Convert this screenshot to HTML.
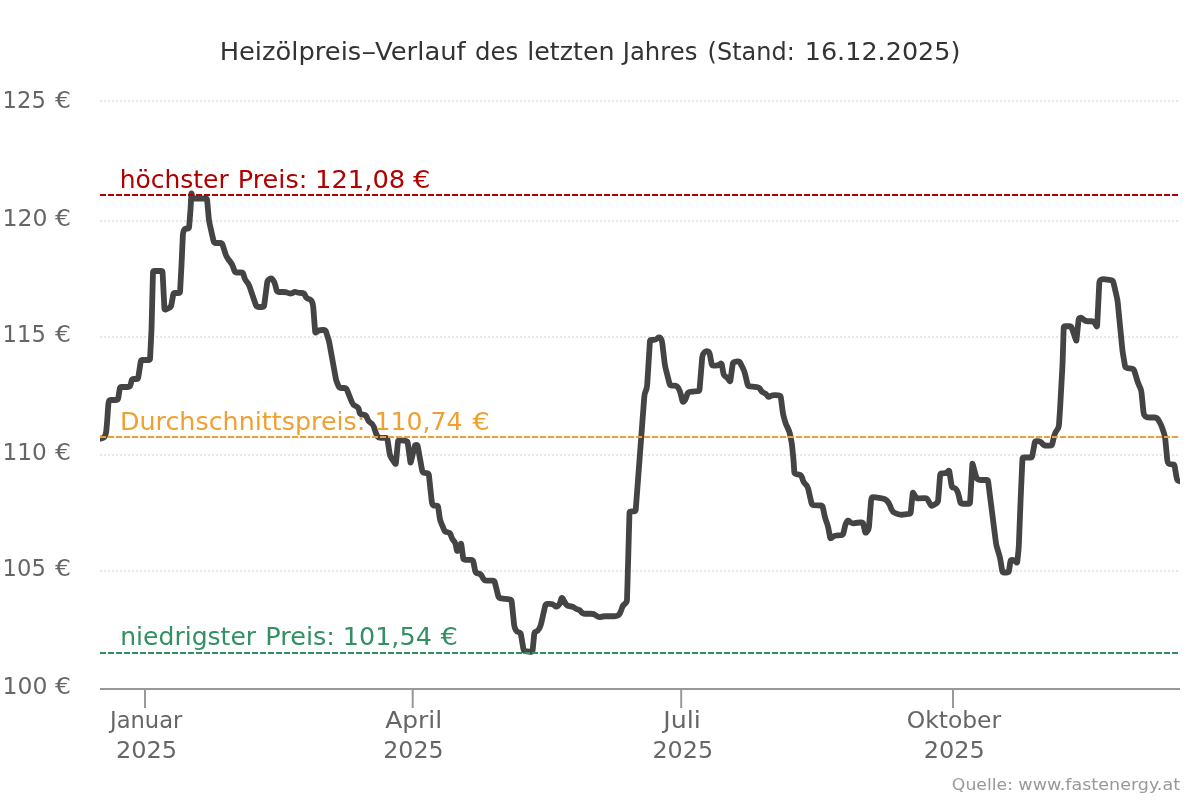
<!DOCTYPE html>
<html lang="de"><head><meta charset="utf-8"><title>Heizölpreis-Verlauf</title>
<style>html,body{margin:0;padding:0;background:#fff;overflow:hidden}svg{display:block}text{font-family:"DejaVu Sans", "Liberation Sans", sans-serif}</style></head><body>
<svg width="1200" height="800" viewBox="0 0 1200 800">
<rect width="1200" height="800" fill="#fff"/>
<defs><clipPath id="plot"><rect x="100" y="90" width="1080" height="610"/></clipPath></defs>
<g stroke="#e6e6e6" stroke-width="2" stroke-dasharray="2 2" fill="none">
<path d="M100 101H1180"/>
<path d="M100 221H1180"/>
<path d="M100 337H1180"/>
<path d="M100 455H1180"/>
<path d="M100 571H1180"/>
</g>
<g stroke="#999" stroke-width="2" fill="none">
<path d="M100 689H1180"/>
<path d="M145 689V708"/>
<path d="M412.7 689V708"/>
<path d="M681.2 689V708"/>
<path d="M953 689V708"/>
</g>
<g clip-path="url(#plot)"><path d="M98 439.3L102.21 438.22Q104.6 437.6 105.34 435.24L105.40 435.05Q106.2 432.5 106.45 429.51L107.00 422.99Q107.25 420 107.45 417.01L108.20 405.99Q108.4 403 108.85 401.50L108.85 401.50Q109.3 400 111.31 400.00L116.16 400.00Q118 400 118.28 398.18L119.72 388.82Q120 387 121.84 387.00L128.05 387.00Q130 387 130.47 385.11L131.53 380.89Q132 379 133.95 379.00L136.15 379.00Q138 379 138.29 377.18L140.71 361.82Q141 360 142.85 360.00L148.26 360.00Q150 360 150.09 358.26L151.35 333.00Q151.5 330 151.58 327.00L152.96 272.72Q153 271 154.72 271.00L160.76 271.00Q162.5 271 162.59 272.74L164.42 308.53Q164.5 310 165.75 309.50L165.75 309.50Q167 309 169.00 308.00L169.00 308.00Q171 307 171.47 304.37L173.17 294.84Q173.5 293 175.37 293.00L178.26 293.00Q180 293 180.09 291.26L181.34 268.00Q181.5 265 181.64 262.00L182.86 235.00Q183 232 184.00 230.25L184.00 230.25Q185 228.5 187.00 228.50L187.23 228.50Q189 228.5 189.14 226.74L190.26 212.99Q190.5 210 190.66 207.00L191.38 193.91Q191.445 192.702 191.66 193.89L192.16 196.66Q192.5 198.5 194.37 198.50L205.22 198.50Q207 198.5 207.16 200.27L208.73 218.01Q209 221 209.66 223.93L213.57 241.12Q214 243 215.92 243.00L219.96 243.00Q222 243 222.62 244.94L225.58 254.14Q226.5 257 228.35 259.36L230.15 261.64Q232 264 233.00 266.83L234.31 270.54Q235 272.5 237.08 272.50L241.03 272.50Q243 272.5 243.51 274.40L244.23 277.10Q245 280 246.75 281.75L246.75 281.75Q248.5 283.5 249.47 286.34L255.84 305.05Q256.5 307 258.56 307.00L262.18 307.00Q264 307 264.23 305.20L267.17 282.53Q267.5 280 269.50 279.00L269.82 278.84Q271.5 278 272.62 279.50L273.00 280.00Q274.5 282 275.23 284.91L276.53 290.11Q277 292 278.95 292.00L283.00 292.00Q286 292 287.50 292.75L287.50 292.75Q289 293.5 290.50 293.50L290.50 293.50Q292 293.5 293.50 292.50L293.50 292.50Q295 291.5 296.50 292.25L296.50 292.25Q298 293 301.00 293.00L301.78 293.00Q304 293 304.92 295.02L305.39 296.05Q306.5 298.5 308.75 299.00L308.75 299.00Q311 299.5 312.00 301.75L312.00 301.75Q313 304 313.23 306.99L315.15 331.67Q315.258 333.023 316.31 332.17L317.13 331.51Q319 330 322.00 330.00L323.47 330.00Q325.5 330 326.10 331.93L327.11 335.14Q328 338 328.50 339.50L328.50 339.50Q329 341 329.54 343.95L335.71 378.05Q336.25 381 337.48 383.74L338.49 385.98Q339.4 388 341.61 388.00L344.11 388.00Q346.25 388 347.04 389.99L351.89 402.21Q353 405 355.75 406.15L356.15 406.32Q358.5 407.3 358.98 409.80L359.39 411.89Q359.8 414 361.91 414.42L364.00 414.84Q366.3 415.3 366.99 417.54L367.43 418.97Q368.3 421.8 370.65 422.90L370.65 422.90Q373 424 373.91 426.85L375.59 432.14Q376.5 435 377.38 436.35L377.38 436.35Q378.25 437.7 380.84 437.79L385.43 437.94Q387.3 438 387.57 439.85L389.56 453.28Q390 456.25 391.72 458.70L395.08 463.48Q395.812 464.521 395.93 463.25L397.95 441.66Q398.1 440 399.75 440.22L405.54 440.99Q407.5 441.25 407.77 443.21L410.39 462.09Q410.559 463.299 410.85 462.11L414.54 446.89Q415 445 416.25 445.00L416.25 445.00Q417.5 445 417.84 446.84L422.13 470.46Q422.5 472.5 424.55 472.83L426.80 473.19Q428.75 473.5 428.96 475.46L431.58 500.02Q431.9 503 432.45 504.30L432.45 504.30Q433 505.6 435.17 505.60L436.17 505.60Q438 505.6 438.25 507.41L439.59 517.03Q440 520 441.15 522.77L444.10 529.84Q445 532 447.33 532.23L447.80 532.28Q450 532.5 450.70 534.59L451.35 536.55Q452.3 539.4 453.80 540.80L453.80 540.80Q455.3 542.2 455.86 545.15L456.85 550.35Q457.09 551.592 457.63 550.45L460.61 544.09Q461.137 542.962 461.30 544.20L463.15 557.86Q463.4 559.7 465.26 559.76L471.07 559.94Q473 560 473.38 561.89L475.19 570.95Q475.6 573 477.66 573.31L478.10 573.38Q480.6 573.75 481.92 576.12L483.25 578.53Q484.4 580.6 486.77 580.60L492.45 580.60Q494.4 580.6 494.87 582.49L498.23 595.93Q498.75 598 500.87 598.28L509.58 599.44Q511.5 599.7 511.70 601.63L514.09 624.52Q514.4 627.5 515.65 629.75L515.65 629.75Q516.9 632 518.75 632.25L518.75 632.25Q520.6 632.5 520.94 634.50L523.41 649.03Q523.75 651 525.74 651.23L530.83 651.81Q532.5 652 532.66 650.33L534.20 634.11Q534.4 632 536.20 631.50L536.20 631.50Q538 631 539.30 628.50L539.30 628.50Q540.6 626 541.26 623.07L545.16 605.92Q545.6 604 547.57 603.93L549.50 603.86Q552.5 603.75 554.38 605.38L554.73 605.68Q556.25 607 557.83 606.00L557.83 606.00Q559.4 605 560.29 602.13L561.42 598.46Q561.81 597.205 562.48 598.34L565.67 603.75Q567 606 569.60 606.22L570.01 606.25Q573 606.5 574.62 607.95L574.62 607.95Q576.25 609.4 578.12 609.70L578.12 609.70Q580 610 581.25 611.88L581.25 611.88Q582.5 613.75 585.04 613.75L590.75 613.75Q593.75 613.75 596.15 615.55L596.68 615.95Q598.75 617.5 600.62 616.88L600.62 616.88Q602.5 616.25 605.50 616.25L614.50 616.25Q617.5 616.25 618.75 615.00L618.75 615.00Q620 613.75 620.97 610.91L622.03 607.84Q623 605 624.95 603.75L624.95 603.75Q626.9 602.5 626.98 599.93L627.51 583.00Q627.6 580 627.68 577.00L629.45 513.25Q629.5 511.5 631.25 511.44L633.80 511.36Q635.6 511.3 635.74 509.51L637.77 482.99Q638 480 638.23 477.01L644.27 396.99Q644.5 394 645.65 391.23L645.85 390.77Q647 388 647.19 385.01L649.89 341.75Q650 340 651.75 340.00L652.80 340.00Q655.6 340 657.50 338.35L658.16 337.78Q659.4 336.7 660.39 338.01L660.65 338.35Q661.9 340 662.26 342.98L664.64 363.02Q665 366 665.74 368.91L669.52 383.70Q670 385.6 671.96 385.60L674.51 385.60Q676.9 385.6 678.09 387.68L678.51 388.40Q680 391 680.70 393.92L682.36 400.87Q682.7 402.3 683.85 401.55L683.85 401.55Q685 400.8 685.97 397.96L687.29 394.08Q688 392 690.19 391.81L697.54 391.16Q699.4 391 699.56 389.14L702.25 356.99Q702.5 354 704.38 352.30L704.62 352.08Q706.25 350.6 707.83 351.30L707.83 351.30Q709.4 352 709.87 354.53L711.56 363.76Q711.9 365.6 713.77 365.60L715.00 365.60Q718 365.6 719.79 364.31L720.43 363.85Q721.578 363.02 721.82 364.41L723.32 373.09Q723.75 375.6 725.33 376.30L725.33 376.30Q726.9 377 728.54 379.51L729.49 380.95Q730.188 382.027 730.37 380.76L732.73 363.94Q733 362 734.95 361.77L737.33 361.49Q739.4 361.25 740.33 363.12L743.06 368.57Q744.4 371.25 745.10 374.17L747.51 384.22Q748 386.25 750.07 386.48L756.87 387.22Q759.4 387.5 760.57 389.76L760.70 390.00Q762 392.5 764.00 393.00L764.00 393.00Q766 393.5 767.30 395.50L767.71 396.13Q768.6 397.5 769.91 396.51L770.25 396.25Q771.9 395 774.89 395.21L778.71 395.47Q780.6 395.6 780.85 397.48L782.61 410.78Q783 413.75 783.75 416.65L784.85 420.85Q785.6 423.75 786.96 426.43L788.04 428.57Q789.4 431.25 789.99 434.19L791.31 440.81Q791.9 443.75 792.19 446.74L793.21 457.01Q793.5 460 793.70 462.99L794.27 471.80Q794.4 473.75 796.32 474.10L798.97 474.58Q801.25 475 801.94 477.21L802.86 480.14Q803.75 483 805.62 484.30L805.62 484.30Q807.5 485.6 808.16 488.53L811.46 503.06Q811.9 505 813.89 505.11L820.53 505.49Q822.5 505.6 822.91 507.53L824.38 514.56Q825 517.5 825.97 520.34L827.03 523.41Q828 526.25 828.54 529.20L830.04 537.35Q830.292 538.738 831.41 537.88L832.35 537.17Q834.4 535.6 837.39 535.39L840.99 535.14Q843 535 843.45 533.03L844.92 526.67Q845.6 523.75 846.80 521.88L847.16 521.31Q848 520 849.12 521.08L850.07 521.99Q851.9 523.75 854.38 523.20L854.70 523.12Q857.5 522.5 860.25 522.50L861.09 522.50Q863 522.5 863.41 524.37L865.05 531.91Q865.346 533.259 866.34 532.31L867.05 531.63Q868.75 530 868.98 527.01L871.02 500.99Q871.25 498 871.88 497.50L871.88 497.50Q872.5 497 875.47 497.42L882.03 498.33Q885 498.75 886.88 500.62L886.88 500.62Q888.75 502.5 889.85 505.29L891.40 509.21Q892.5 512 895.29 513.11L897.21 513.89Q900 515 902.98 514.65L908.69 513.97Q910.6 513.75 910.80 511.84L912.70 493.22Q912.828 491.969 913.45 493.07L915.38 496.51Q916.5 498.5 918.78 498.39L924.67 498.11Q926.9 498 927.94 499.98L930.47 504.76Q931.25 506.25 932.72 505.43L935.79 503.73Q938 502.5 938.19 499.98L940.06 475.41Q940.2 473.6 942.01 473.51L943.30 473.45Q946.3 473.3 947.73 471.72L948.26 471.13Q949.154 470.141 949.36 471.46L951.59 485.51Q951.9 487.5 953.75 487.75L953.75 487.75Q955.6 488 956.80 490.25L956.80 490.25Q958 492.5 958.68 495.42L960.17 501.87Q960.6 503.75 962.53 503.75L968.25 503.75Q970 503.75 970.10 502.00L972.35 464.17Q972.419 462.954 972.73 464.13L975.49 474.60Q976.25 477.5 977.12 478.75L977.12 478.75Q978 480 980.60 480.00L986.19 480.00Q988 480 988.22 481.80L990.13 497.02Q990.5 500 990.88 502.98L995.22 537.02Q995.6 540 995.92 542.50L995.92 542.50Q996.25 545 997.11 547.87L999.14 554.63Q1000 557.5 1000.49 560.46L1002.19 570.67Q1002.5 572.5 1004.36 572.50L1006.91 572.50Q1008.75 572.5 1009.02 570.68L1010.33 561.82Q1010.6 560 1012.44 560.00L1012.50 560.00Q1014.4 560 1015.78 561.63L1016.32 562.26Q1017.16 563.256 1017.29 561.96L1018.45 550.48Q1018.75 547.5 1018.87 544.50L1020.48 503.00Q1020.6 500 1020.73 497.00L1022.42 459.23Q1022.5 457.5 1024.24 457.50L1030.13 457.50Q1032 457.5 1032.34 455.66L1034.67 442.80Q1035 441 1036.82 441.08L1037.84 441.13Q1040.6 441.25 1042.17 443.43L1042.20 443.46Q1043.75 445.6 1046.39 445.60L1049.97 445.60Q1051.9 445.6 1052.35 443.72L1054.31 435.42Q1055 432.5 1056.88 430.25L1056.88 430.25Q1058.75 428 1058.96 425.01L1059.79 412.99Q1060 410 1060.17 407.00L1062.33 368.00Q1062.5 365 1062.60 362.00L1063.69 327.97Q1063.75 326.25 1065.48 326.25L1069.19 326.25Q1071.25 326.25 1071.91 328.20L1075.95 340.13Q1076.34 341.295 1076.47 340.07L1078.55 319.96Q1078.75 318 1080.33 317.75L1080.33 317.75Q1081.9 317.5 1083.44 319.37L1083.45 319.38Q1085 321.25 1087.82 321.25L1091.35 321.25Q1093.75 321.25 1094.94 323.33L1096.48 325.99Q1097.1 327.075 1097.16 325.83L1099.27 283.14Q1099.4 280.6 1100.95 279.68L1100.95 279.68Q1102.5 278.75 1105.45 279.27L1110.86 280.22Q1113 280.6 1113.49 282.72L1116.82 297.08Q1117.5 300 1117.79 302.99L1122.21 348.01Q1122.5 351 1122.99 353.96L1124.97 365.84Q1125.3 367.8 1127.28 368.02L1131.59 368.51Q1133.75 368.75 1134.37 370.83L1137.14 380.13Q1138 383 1139.26 385.72L1139.99 387.28Q1141.25 390 1141.55 392.99L1143.45 412.01Q1143.75 415 1145.17 416.25L1145.17 416.25Q1146.6 417.5 1149.60 417.50L1154.50 417.50Q1156.9 417.5 1158.11 419.58L1159.74 422.40Q1161.25 425 1162.20 427.85L1164.05 433.40Q1165 436.25 1165.28 439.24L1167.22 459.51Q1167.5 462.5 1168.45 463.45L1168.45 463.45Q1169.4 464.4 1171.90 464.40L1172.55 464.40Q1174.4 464.4 1174.70 466.23L1176.41 476.64Q1176.9 479.6 1177.60 480.40L1177.60 480.40Q1178.3 481.2 1180.15 481.30L1182 481.4" fill="none" stroke="#444" stroke-width="5.8" stroke-linejoin="round" stroke-linecap="round"/></g>
<path d="M100 195H1180" stroke="#b00000" stroke-width="2" stroke-dasharray="6 2" fill="none"/>
<path d="M100 437H1180" stroke="#f0a030" stroke-width="2" stroke-dasharray="6 2" fill="none"/>
<path d="M100 653H1180" stroke="#329162" stroke-width="2" stroke-dasharray="6 2" fill="none"/>
<text font-size="25" fill="#333" y="60" xml:space="preserve"><tspan x="219.68" textLength="141.56" lengthAdjust="spacingAndGlyphs">Heizölpreis</tspan><tspan x="361.54" textLength="14.63" lengthAdjust="spacingAndGlyphs">–</tspan><tspan x="375.04" textLength="98.9" lengthAdjust="spacingAndGlyphs">Verlauf </tspan><tspan x="475.03" textLength="50.98" lengthAdjust="spacingAndGlyphs">des </tspan><tspan x="527.22" textLength="95.38" lengthAdjust="spacingAndGlyphs">letzten </tspan><tspan x="622.71" textLength="82.43" lengthAdjust="spacingAndGlyphs">Jahres </tspan><tspan x="707.58" textLength="94.81" lengthAdjust="spacingAndGlyphs">(Stand: </tspan><tspan x="804.7" textLength="155.8" lengthAdjust="spacingAndGlyphs">16.12.2025)</tspan></text>
<text font-size="25" fill="#b00000" y="187.5" xml:space="preserve"><tspan x="119.76" textLength="116.9" lengthAdjust="spacingAndGlyphs">höchster </tspan><tspan x="237.7" textLength="77.78" lengthAdjust="spacingAndGlyphs">Preis: </tspan><tspan x="315.06" textLength="98.43" lengthAdjust="spacingAndGlyphs">121,08 </tspan><tspan x="413.1" textLength="17.47" lengthAdjust="spacingAndGlyphs">€</tspan></text>
<text font-size="25" fill="#f0a030" y="429.5" xml:space="preserve"><tspan x="119.92" textLength="253.53" lengthAdjust="spacingAndGlyphs">Durchschnittspreis: </tspan><tspan x="374.48" textLength="96.01" lengthAdjust="spacingAndGlyphs">110,74 </tspan><tspan x="472.2" textLength="17.64" lengthAdjust="spacingAndGlyphs">€</tspan></text>
<text font-size="25" fill="#329162" y="645.3" xml:space="preserve"><tspan x="120.25" textLength="143.85" lengthAdjust="spacingAndGlyphs">niedrigster </tspan><tspan x="265.2" textLength="77.91" lengthAdjust="spacingAndGlyphs">Preis: </tspan><tspan x="342.8" textLength="97.15" lengthAdjust="spacingAndGlyphs">101,54 </tspan><tspan x="440.6" textLength="17.47" lengthAdjust="spacingAndGlyphs">€</tspan></text>
<text font-size="23.4" fill="#666" y="107.8" xml:space="preserve"><tspan x="2.58" textLength="50.48" lengthAdjust="spacingAndGlyphs">125 </tspan><tspan x="55.0" textLength="15.99" lengthAdjust="spacingAndGlyphs">€</tspan></text>
<text font-size="23.4" fill="#666" y="225.8" xml:space="preserve"><tspan x="2.48" textLength="52.41" lengthAdjust="spacingAndGlyphs">120 </tspan><tspan x="55.0" textLength="15.99" lengthAdjust="spacingAndGlyphs">€</tspan></text>
<text font-size="23.4" fill="#666" y="341.8" xml:space="preserve"><tspan x="2.58" textLength="50.48" lengthAdjust="spacingAndGlyphs">115 </tspan><tspan x="55.0" textLength="15.99" lengthAdjust="spacingAndGlyphs">€</tspan></text>
<text font-size="23.4" fill="#666" y="459.8" xml:space="preserve"><tspan x="2.52" textLength="51.77" lengthAdjust="spacingAndGlyphs">110 </tspan><tspan x="55.0" textLength="15.99" lengthAdjust="spacingAndGlyphs">€</tspan></text>
<text font-size="23.4" fill="#666" y="575.8" xml:space="preserve"><tspan x="2.58" textLength="50.48" lengthAdjust="spacingAndGlyphs">105 </tspan><tspan x="55.0" textLength="15.99" lengthAdjust="spacingAndGlyphs">€</tspan></text>
<text font-size="23.4" fill="#666" y="693.7" xml:space="preserve"><tspan x="2.48" textLength="52.41" lengthAdjust="spacingAndGlyphs">100 </tspan><tspan x="55.0" textLength="15.99" lengthAdjust="spacingAndGlyphs">€</tspan></text>
<text font-size="23.4" fill="#666" y="728" xml:space="preserve"><tspan x="109.96" textLength="72.39" lengthAdjust="spacingAndGlyphs">Januar</tspan></text>
<text font-size="23.4" fill="#666" y="757.8" xml:space="preserve"><tspan x="115.96" textLength="61.13" lengthAdjust="spacingAndGlyphs">2025</tspan></text>
<text font-size="23.4" fill="#666" y="728" xml:space="preserve"><tspan x="385.23" textLength="56.88" lengthAdjust="spacingAndGlyphs">April</tspan></text>
<text font-size="23.4" fill="#666" y="757.8" xml:space="preserve"><tspan x="383.28" textLength="60.28" lengthAdjust="spacingAndGlyphs">2025</tspan></text>
<text font-size="23.4" fill="#666" y="728" xml:space="preserve"><tspan x="663.35" textLength="37.54" lengthAdjust="spacingAndGlyphs">Juli</tspan></text>
<text font-size="23.4" fill="#666" y="757.8" xml:space="preserve"><tspan x="652.47" textLength="60.59" lengthAdjust="spacingAndGlyphs">2025</tspan></text>
<text font-size="23.4" fill="#666" y="728" xml:space="preserve"><tspan x="906.75" textLength="94.35" lengthAdjust="spacingAndGlyphs">Oktober</tspan></text>
<text font-size="23.4" fill="#666" y="757.8" xml:space="preserve"><tspan x="923.76" textLength="61.02" lengthAdjust="spacingAndGlyphs">2025</tspan></text>
<text font-size="16.5" fill="#999" y="790" xml:space="preserve"><tspan x="951.82" textLength="66.69" lengthAdjust="spacingAndGlyphs">Quelle: </tspan><tspan x="1018.3" textLength="161.75" lengthAdjust="spacingAndGlyphs">www.fastenergy.at</tspan></text>
</svg></body></html>
